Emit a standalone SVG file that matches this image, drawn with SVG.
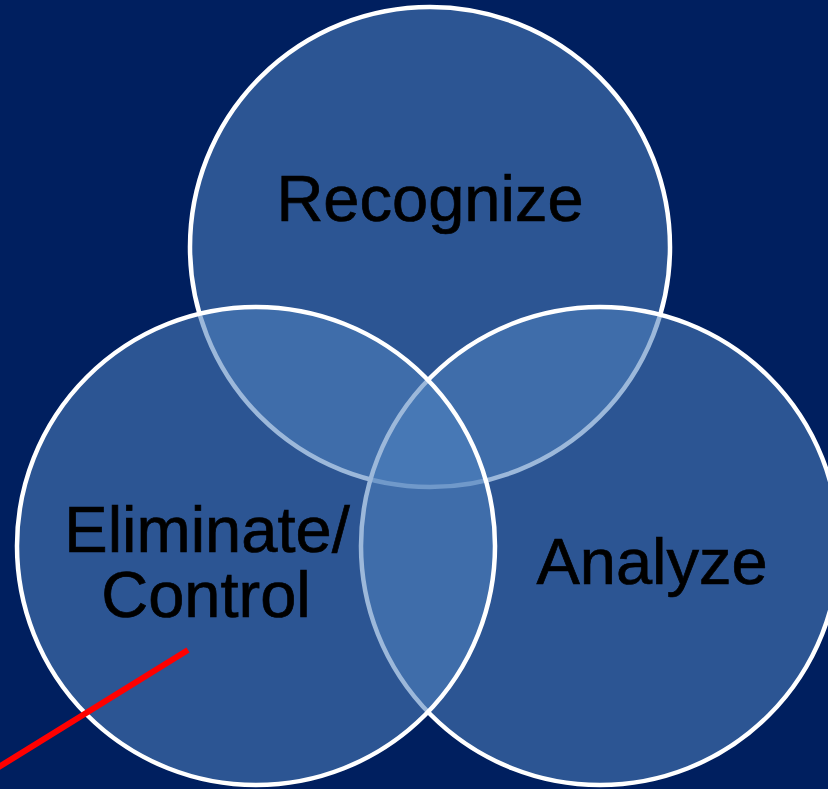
<svg xmlns="http://www.w3.org/2000/svg" width="828" height="789" viewBox="0 0 828 789">
  <style>
    .disc { fill: #4F81BD; fill-opacity: 0.56; stroke: #FFFFFF; stroke-width: 4.5; }
    .label { font-family: "Liberation Sans", Arial, Helvetica, sans-serif; font-size: 65px; fill: #000000; stroke: #000000; stroke-width: 0.7; text-anchor: middle; }
    .pointer { stroke: #FF0000; stroke-width: 6; stroke-linecap: butt; fill: none; }
  </style>
  <!-- background -->
  <rect x="0" y="0" width="828" height="789" fill="#001F5F"/>

  <!-- overlapping, semi-transparent discs: top, right, left (left drawn last) -->
  <g id="recognize">
    <circle class="disc" cx="430" cy="247" r="240"/>
  </g>
  <g id="analyze">
    <circle class="disc" cx="600" cy="546" r="239"/>
  </g>
  <g id="eliminate-control">
    <circle class="disc" cx="256" cy="546" r="239"/>
  </g>

  <!-- labels -->
  <g id="labels">
    <text class="label" x="430" y="221">Recognize</text>
    <text class="label" x="652" y="584">Analyze</text>
    <text class="label" y="552"><tspan x="207">Eliminate/</tspan><tspan x="206" dy="65">Control</tspan></text>
  </g>

  <!-- red pointer line -->
  <g id="connectors">
    <line class="pointer" x1="188" y1="650" x2="-6" y2="770"/>
  </g>
</svg>
